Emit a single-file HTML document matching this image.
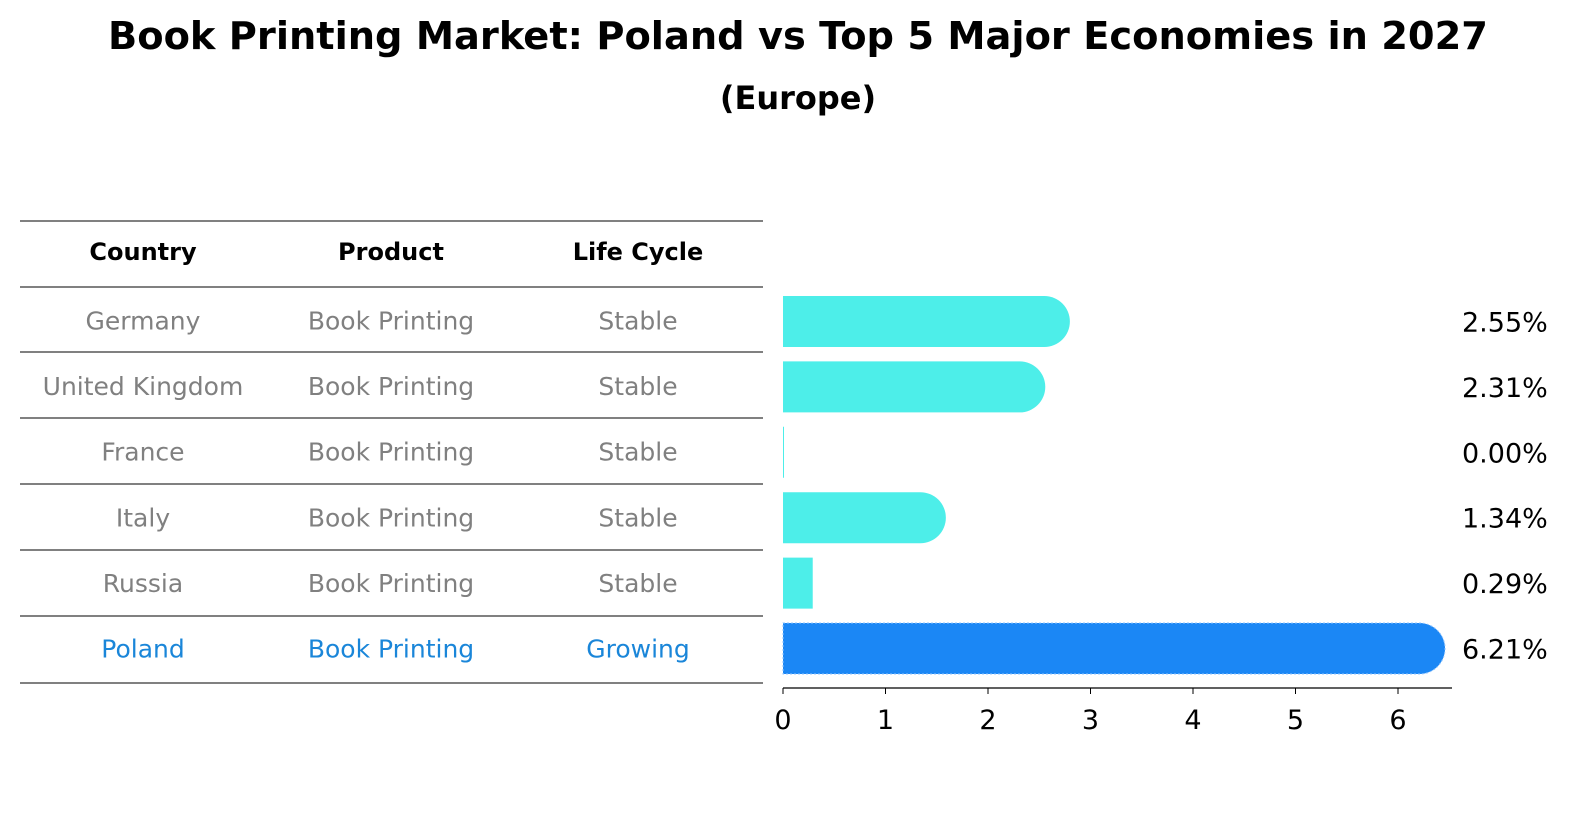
<!DOCTYPE html>
<html><head><meta charset="utf-8"><style>
body{margin:0;background:#fff;font-family:"DejaVu Sans","Liberation Sans",sans-serif;}
svg text{font-family:"DejaVu Sans","Liberation Sans",sans-serif;}
</style></head><body>
<svg id="c" width="1586" height="823" xmlns="http://www.w3.org/2000/svg">
<text x="798" y="49" text-anchor="middle" font-size="38" font-weight="bold" textLength="1380" lengthAdjust="spacingAndGlyphs">Book Printing Market: Poland vs Top 5 Major Economies in 2027</text>
<text x="798" y="109" text-anchor="middle" font-size="32" font-weight="bold">(Europe)</text>
<g id="table"></g>
<g id="bars"></g>
</svg>
<script>
const countries=["Germany","United Kingdom","France","Italy","Russia","Poland"];
const products=["Book Printing","Book Printing","Book Printing","Book Printing","Book Printing","Book Printing"];
const lifeCycles=["Stable","Stable","Stable","Stable","Stable","Growing"];
const values=[2.55,2.31,0.00,1.34,0.29,6.21];
const xTicks=[0,1,2,3,4,5,6];
const NS="http://www.w3.org/2000/svg";
function mk(t,a,p,txt){const e=document.createElementNS(NS,t);for(const k in a)e.setAttribute(k,a[k]);if(txt!==undefined)e.textContent=txt;p.appendChild(e);return e;}
const tb=document.getElementById('table'),bg=document.getElementById('bars');
const lineYs=[221,287,352,418,484,550,616,683];
lineYs.forEach(y=>{const l=mk('line',{x1:20,x2:763,y1:y,y2:y,stroke:'#000','stroke-width':1},tb);

});
const cx=[143,391,638];
["Country","Product","Life Cycle"].forEach((h,i)=>{const t=mk('text',{x:cx[i],y:260,'text-anchor':'middle','font-size':24,'font-weight':'bold'},tb,h);

});
const x0=783,ux=102.5,r=25.5,bh=51;
function xs(v){return x0+v*ux;}
function rowY(i){return 321.5+i*65;}
countries.forEach((c,i)=>{
 const isP=c==="Poland";const col=isP?'#1a86d9':'#808080';
 [c,products[i],lifeCycles[i]].forEach((s,j)=>{const t=mk('text',{x:cx[j],y:rowY(i)+8+(i*0.6),'text-anchor':'middle','font-size':25,fill:col},tb,s);
 
 });
 const yc=rowY(i)+i*0.4, w=xs(values[i])-x0, fill=isP?'#1b87f5':'#4deee9';
 let d;
 if(w>=r*1.6){d=`M${x0},${yc-bh/2}H${x0+w}A${r},${bh/2} 0 0 1 ${x0+w},${yc+bh/2}H${x0}Z`;}
 else{d=`M${x0},${yc-bh/2}H${x0+Math.max(w,1)}V${yc+bh/2}H${x0}Z`;}
 const b=mk('path',{d:d,fill:fill},bg);
 if(isP){b.setAttribute('stroke','#8fc4ff');b.setAttribute('stroke-dasharray','2,2');b.setAttribute('stroke-width','1');}
 
 
 const t=mk('text',{x:1462,y:yc+10,'font-size':27},bg,values[i].toFixed(2)+'%');
 
 
});
const ax=mk('line',{x1:x0,x2:1452,y1:688,y2:688,stroke:'#000','stroke-width':1.2},bg);


xTicks.forEach(v=>{const l=mk('line',{x1:xs(v),x2:xs(v),y1:688,y2:694,stroke:'#000'},bg);


const t=mk('text',{x:xs(v),y:729,'text-anchor':'middle','font-size':27},bg,String(v));

});
</script>
</body></html>
